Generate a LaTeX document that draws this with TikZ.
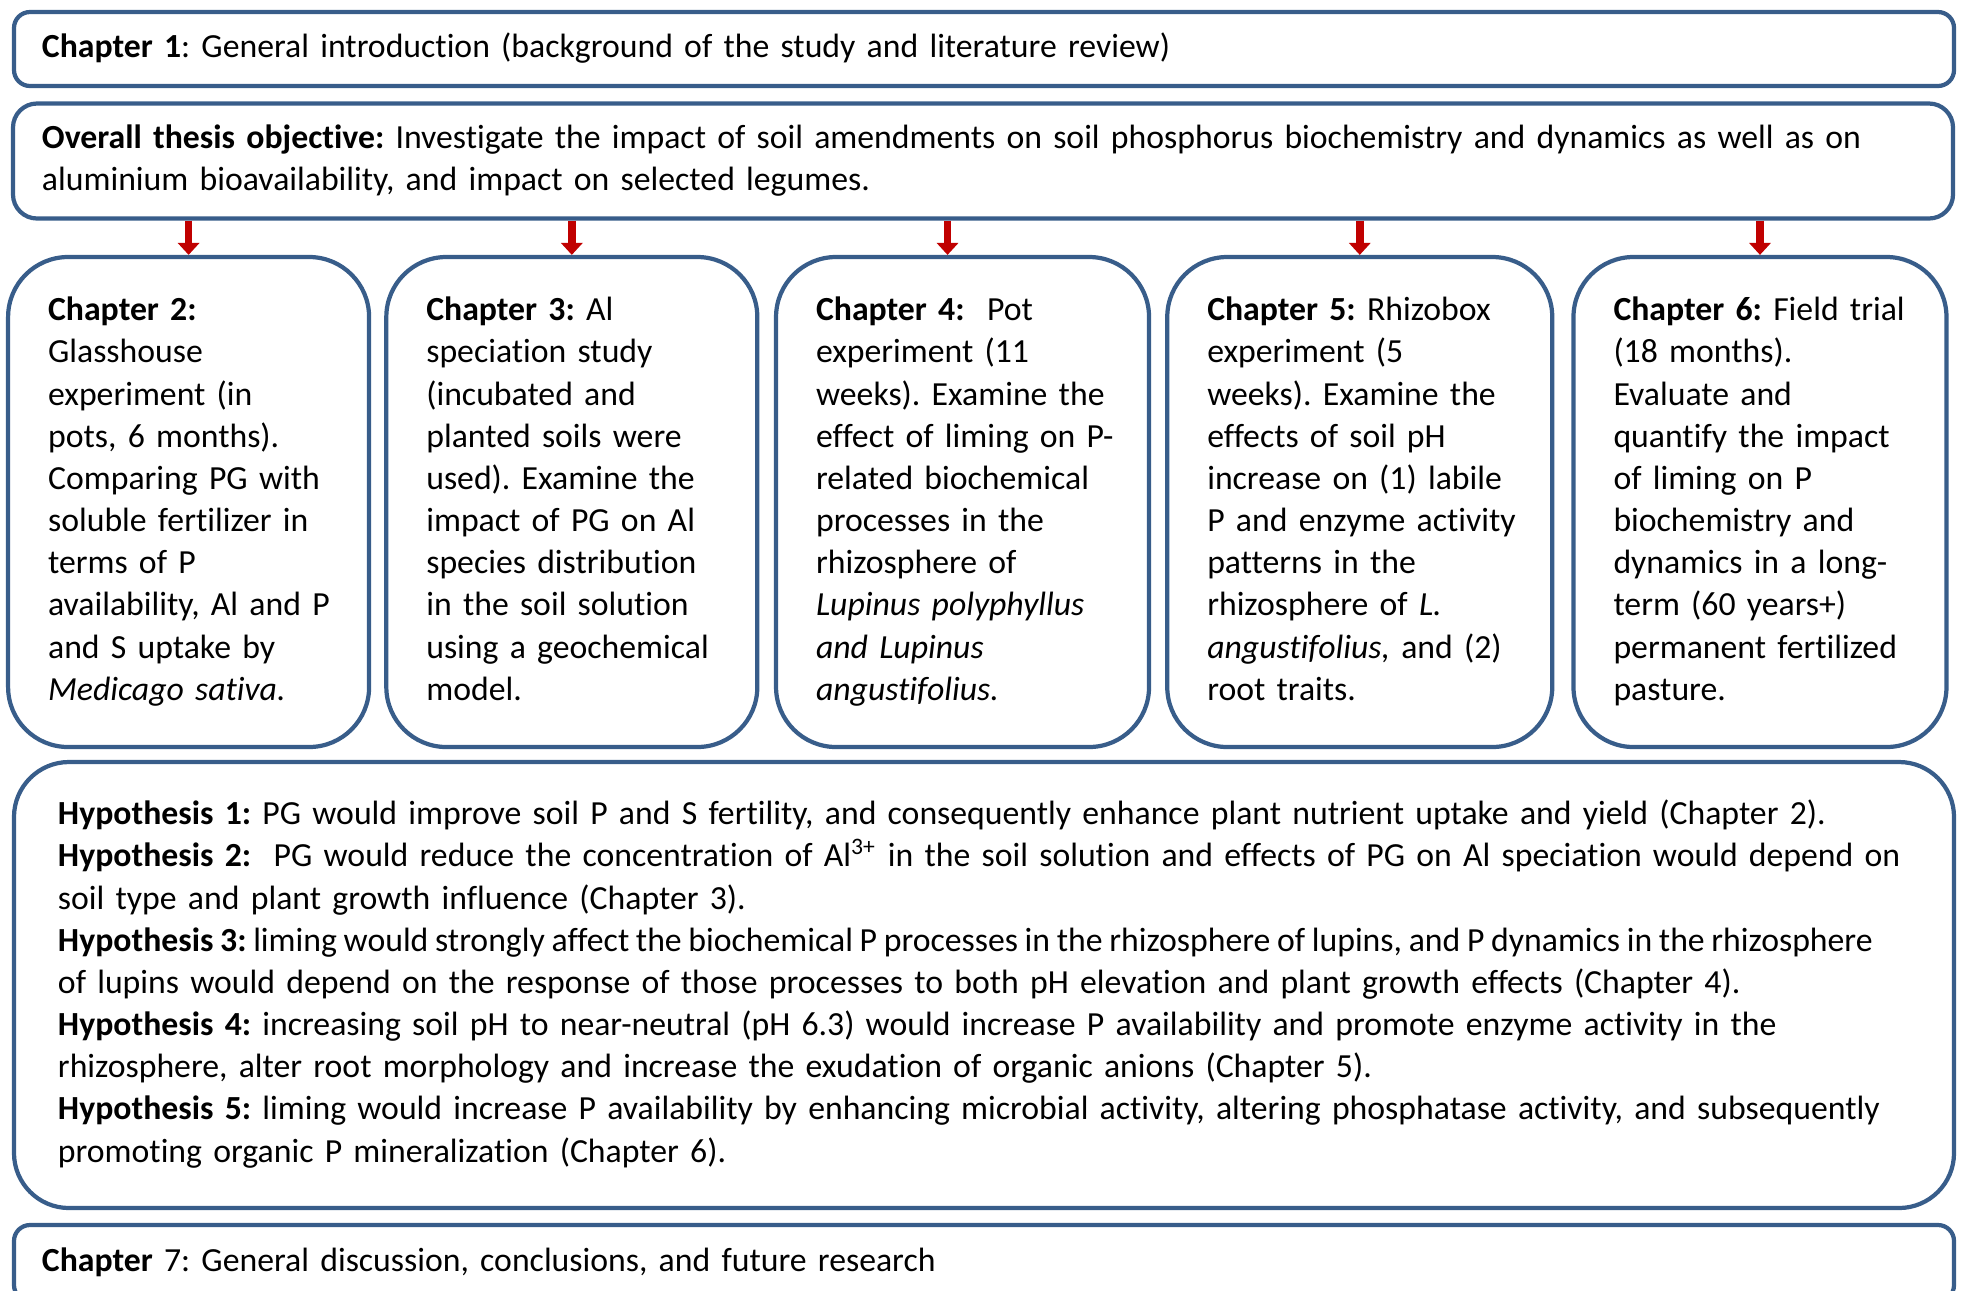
\documentclass[tikz,border=0pt]{standalone}
\usepackage{fontspec}
\setmainfont{Carlito}[Ligatures=NoCommon]
\usetikzlibrary{arrows.meta,positioning}
\definecolor{boxblue}{RGB}{56,93,138}
\definecolor{arrred}{RGB}{192,0,0}
\frenchspacing
% one unbreakable block of left-aligned lines
\newcommand{\boxlines}[1]{\begin{tabular}{@{}l@{}}#1\end{tabular}}

\begin{document}
\begin{tikzpicture}[x=1mm,y=-1mm,
  box/.style={draw=boxblue,line width=1.2pt,fill=white,inner ysep=0pt,align=left,
    font=\fontsize{9.6}{12}\selectfont},
  wide/.style={box,minimum width=194mm,text width=#1},
  chap/.style={box,rounded corners=6mm,minimum height=49mm,inner xsep=4mm,
    minimum width=#1,text width=#1-8mm},
  down/.style={arrred,line width=2.2pt,-{Triangle[width=6pt,length=3.4pt]}}]
  \useasboundingbox (0,0) rectangle (196.1,129);

  % introduction and objective
  \node[wide=188.4mm,rounded corners=1.6mm,minimum height=7.4mm,inner xsep=2.8mm] (ch1) at (98.4,4.9)
    {\boxlines{\textbf{Chapter 1}: General introduction (background of the study and literature review)}};
  \node[wide=188.2mm,rounded corners=2.4mm,minimum height=11.5mm,inner xsep=2.9mm] (obj) at (98.3,16.1)
    {\boxlines{\textbf{Overall thesis objective:} Investigate the impact of soil amendments on soil phosphorus biochemistry and dynamics as well as on\\
     aluminium bioavailability, and impact on selected legumes.}};

  % experimental chapters
  \node[chap=36.1mm] (ch2) at (18.86,50.2)
    {\boxlines{\textbf{Chapter 2:}\\ Glasshouse\\ experiment (in\\ pots, 6 months).\\ Comparing PG with\\ soluble fertilizer in\\
     terms of P\\ availability, Al and P\\ and S uptake by\\ \textit{Medicago sativa.}}};
  \node[chap=37.1mm,right=1.3mm of ch2] (ch3)
    {\boxlines{\textbf{Chapter 3:} Al\\ speciation study\\ (incubated and\\ planted soils were\\ used). Examine the\\
     impact of PG on Al\\ species distribution\\ in the soil solution\\ using a geochemical\\ model.}};
  \node[chap=37.3mm,right=1.45mm of ch3] (ch4)
    {\boxlines{\textbf{Chapter 4:}\ \ Pot\\ experiment (11\\ weeks). Examine the\\ effect of liming on P-\\ related biochemical\\
     processes in the\\ rhizosphere of\\ \textit{Lupinus polyphyllus}\\ \textit{and Lupinus}\\ \textit{angustifolius.}}};
  \node[chap=38.5mm,right=1.4mm of ch4] (ch5)
    {\boxlines{\textbf{Chapter 5:} Rhizobox\\ experiment (5\\ weeks). Examine the\\ effects of soil pH\\ increase on (1) labile\\
     P and enzyme activity\\ patterns in the\\ rhizosphere of \textit{L.}\\ \textit{angustifolius,} and (2)\\ root traits.}};
  \node[chap=37.3mm,right=1.7mm of ch5] (ch6)
    {\boxlines{\textbf{Chapter 6:} Field trial\\ (18 months).\\ Evaluate and\\ quantify the impact\\ of liming on P\\
     biochemistry and\\ dynamics in a long-\\ term (60 years+)\\ permanent fertilized\\ pasture.}};

  \foreach \n/\dx in {2/0,3/0,4/-1.5,5/0,6/0}
    \draw[down] ([xshift=\dx mm]obj.south -| ch\n.north) -- ([xshift=\dx mm]ch\n.north);

  % hypotheses and discussion
  \node[wide=185.2mm,rounded corners=5.5mm,minimum height=44.6mm,inner xsep=4.4mm] (hyp) at (98.4,98.5)
    {\boxlines{\textbf{Hypothesis 1:} PG would improve soil P and S fertility, and consequently enhance plant nutrient uptake and yield (Chapter 2).\\
     \textbf{Hypothesis 2:}\ \ PG would reduce the concentration of Al\textsuperscript{3+} in the soil solution and effects of PG on Al speciation would depend on\\
     soil type and plant growth influence (Chapter 3).\\
     {\spaceskip=1.9pt\textbf{Hypothesis 3:} liming would strongly affect the biochemical P processes in the rhizosphere of lupins, and P dynamics in the rhizosphere}\\
     of lupins would depend on the response of those processes to both pH elevation and plant growth effects (Chapter 4).\\
     \textbf{Hypothesis 4:} increasing soil pH to near-neutral (pH 6.3) would increase P availability and promote enzyme activity in the\\
     rhizosphere, alter root morphology and increase the exudation of organic anions (Chapter 5).\\
     \textbf{Hypothesis 5:} liming would increase P availability by enhancing microbial activity, altering phosphatase activity, and subsequently\\
     promoting organic P mineralization (Chapter 6).}};
  \node[wide=188.4mm,rounded corners=1.6mm,minimum height=7.6mm,inner xsep=2.8mm] (ch7) at (98.4,126.3)
    {\boxlines{\textbf{Chapter} 7: General discussion, conclusions, and future research}};
\end{tikzpicture}
\end{document}
